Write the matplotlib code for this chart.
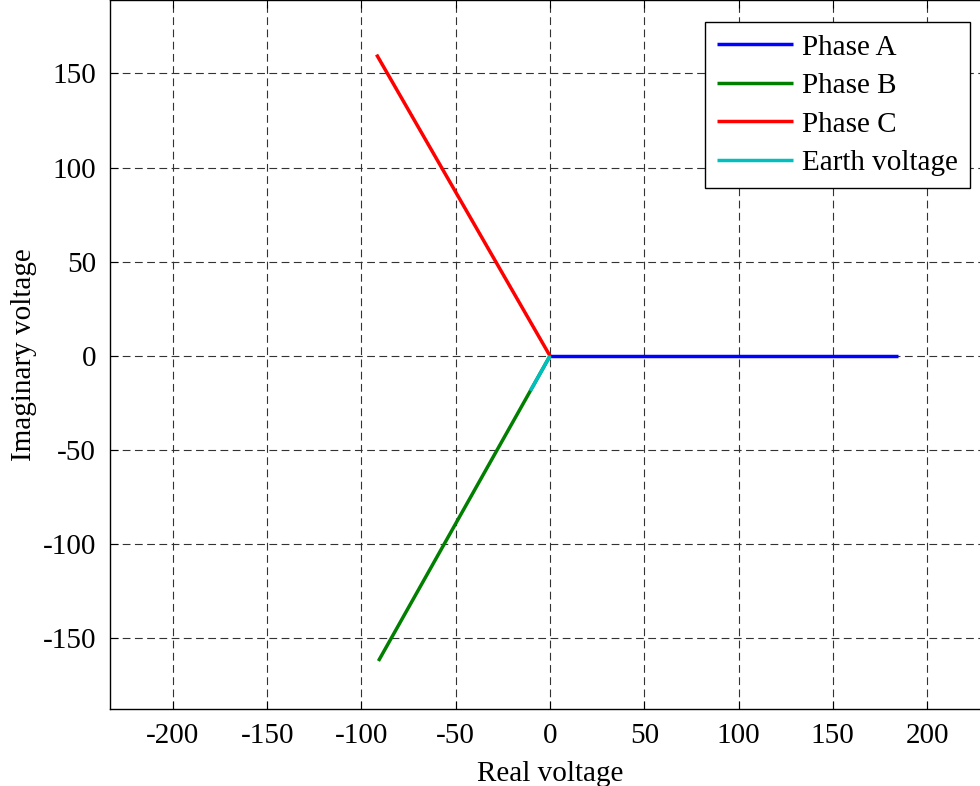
import matplotlib
matplotlib.use("Agg")
import matplotlib.pyplot as plt

plt.rcParams['font.family'] = ['Liberation Serif', 'DejaVu Serif']
plt.rcParams['axes.unicode_minus'] = False

series_names = ["Phase A", "Phase B", "Phase C", "Earth voltage"]
series_colors = ["#0000ff", "#007f00", "#ff0000", "#00bfbf"]
real_parts = [184.5, -91.0, -92.0, -10.4]
imag_parts = [0.0, -162.0, 160.0, -18.5]

xticks = [-200, -150, -100, -50, 0, 50, 100, 150, 200]
yticks = [-150, -100, -50, 0, 50, 100, 150]

fig = plt.figure(figsize=(9.8, 7.86), dpi=100)
ax = fig.add_axes([110/980, 77/786, 880/980, 709/786])

for name, col, re, im in zip(series_names, series_colors, real_parts, imag_parts):
    ax.plot([0, re], [0, im], color=col, linewidth=2.5, label=name, solid_capstyle='butt')

ax.set_xlim(-233.4, 233.4)
ax.set_ylim(-187.5, 189)
ax.set_xticks(xticks)
ax.set_yticks(yticks)
ax.tick_params(direction='in', top=True, right=True, labelsize=21, length=6, width=0.8, pad=10)
ax.grid(True, color='#333333', linestyle=(0, (7, 4)), linewidth=0.8)
for s in ax.spines.values():
    s.set_linewidth(1.0)

ax.set_xlabel("Real voltage", fontsize=21, labelpad=9)
ax.set_ylabel("Imaginary voltage", fontsize=21, labelpad=4)

leg = ax.legend(loc='upper right', bbox_to_anchor=(970/980, 1 - 22/786),
                bbox_transform=fig.transFigure, borderaxespad=0, fontsize=21,
                fancybox=False, framealpha=1, edgecolor='black', handlelength=2.6,
                labelspacing=0.415, borderpad=0.42, handletextpad=0.3)
leg.get_frame().set_linewidth(1.0)

fig.savefig("out.png", dpi=100)
